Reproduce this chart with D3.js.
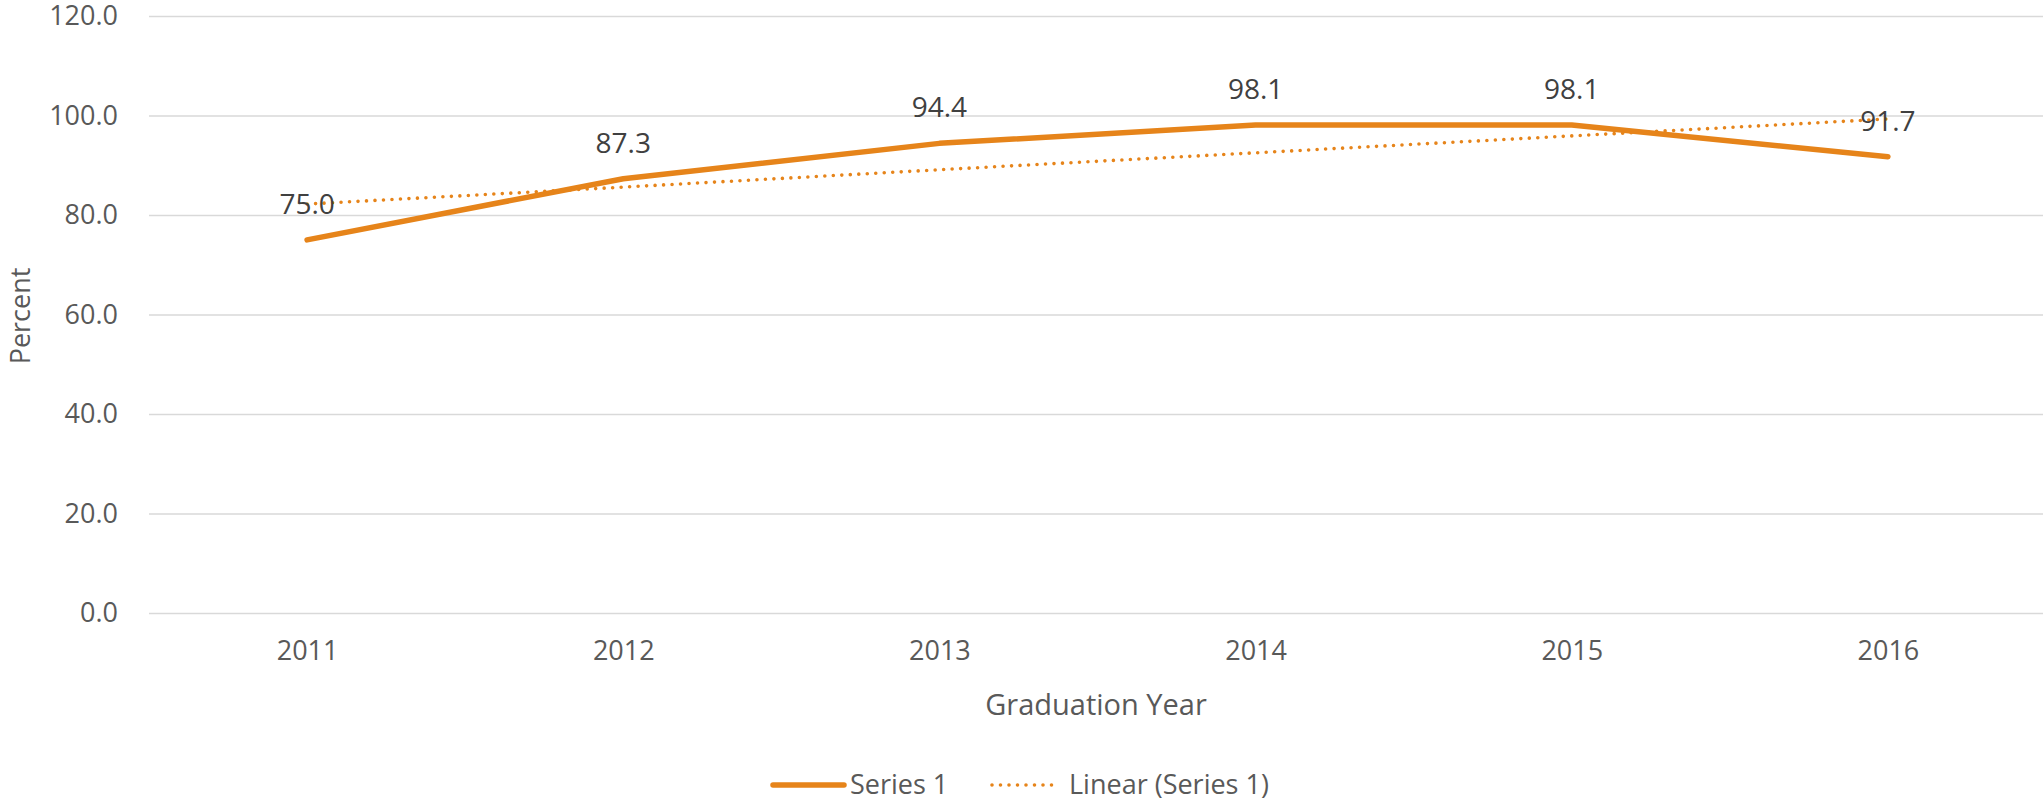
<!DOCTYPE html>
<html>
<head>
<meta charset="utf-8">
<script src="https://cdn.jsdelivr.net/npm/d3@7"></script>
<style>
  body { margin: 0; background: #fff; }
  svg text { font-family: "Open Sans", sans-serif; }
</style>
</head>
<body>
<svg id="chart"></svg>
<script>
var width = 2043,
	height = 803;
var margin = ({top: 16, right: 0, bottom: 190, left: 149});

// Values
var years = ['2011', '2012', '2013', '2014', '2015', '2016'];
var values = [75.0, 87.3, 94.4, 98.1, 98.1, 91.7];
var trendValues = [82.2, 85.6, 89.1, 92.5, 95.9, 99.3];
var yTicks = [0, 20, 40, 60, 80, 100, 120];
var seriesName = 'Series 1';
var trendName = 'Linear (Series 1)';

var orange = '#E6841A';
var gridColor = '#D9D9D9';
var labelColor = '#595959';

var svg = d3.select('#chart')
	.attr('width', width)
	.attr('height', height);

var x = d3.scalePoint()
	.domain(years)
	.range([margin.left, width + 3])
	.padding(0.5);

var y = d3.scaleLinear()
	.domain([0, 120])
	.range([613, margin.top]);

// gridlines + y tick labels
var yAxis = g => g
	.attr('transform', 'translate(' + margin.left + ',0)')
	.call(d3.axisLeft(y).tickValues(yTicks).tickFormat(d3.format('.1f')).tickSize(0).tickPadding(31))
	.call(g => g.select('.domain').remove())
	.call(g => g.selectAll('.tick line').clone()
		.attr('x2', width - margin.left)
		.attr('stroke', gridColor)
		.attr('stroke-width', 1.4))
	.call(g => g.selectAll('.tick text')
		.attr('font-size', 27)
		.attr('font-family', '"Open Sans", sans-serif')
		.attr('fill', labelColor));

svg.append('g').call(yAxis);

// x tick labels
var xAxis = g => g
	.attr('transform', 'translate(0,613)')
	.call(d3.axisBottom(x).tickSize(0).tickPadding(28))
	.call(g => g.select('.domain').remove())
	.call(g => g.selectAll('.tick text')
		.attr('font-size', 27)
		.attr('font-family', '"Open Sans", sans-serif')
		.attr('fill', labelColor));

svg.append('g').call(xAxis);

// axis titles
svg.append('text')
	.attr('x', (margin.left + width) / 2)
	.attr('y', 715)
	.attr('text-anchor', 'middle')
	.attr('font-size', 29)
	.attr('fill', labelColor)
	.text('Graduation Year');

svg.append('text')
	.attr('transform', 'translate(30,316) rotate(-90)')
	.attr('text-anchor', 'middle')
	.attr('font-size', 27)
	.attr('fill', labelColor)
	.text('Percent');

// series line
var line = d3.line()
	.x((d, i) => x(years[i]))
	.y(d => y(d));

svg.append('path')
	.attr('d', line(values))
	.attr('fill', 'none')
	.attr('stroke', orange)
	.attr('stroke-width', 5.5)
	.attr('stroke-linecap', 'round')
	.attr('stroke-linejoin', 'round');

// linear trendline
svg.append('path')
	.attr('d', line(trendValues))
	.attr('fill', 'none')
	.attr('stroke', orange)
	.attr('stroke-width', 3.6)
	.attr('stroke-linecap', 'round')
	.attr('stroke-dasharray', '0 8.5');

// data labels
svg.append('g')
	.selectAll('text')
	.data(values)
	.join('text')
		.attr('x', (d, i) => x(years[i]))
		.attr('y', d => y(d) - 26)
		.attr('text-anchor', 'middle')
		.attr('font-size', 28)
		.attr('fill', '#404040')
		.text(d => d3.format('.1f')(d));

// legend
var legend = svg.append('g');
legend.append('line')
	.attr('x1', 773).attr('x2', 844)
	.attr('y1', 785).attr('y2', 785)
	.attr('stroke', orange)
	.attr('stroke-width', 5.5)
	.attr('stroke-linecap', 'round');
legend.append('text')
	.attr('x', 850)
	.attr('y', 794)
	.attr('font-size', 27)
	.attr('fill', labelColor)
	.text(seriesName);
legend.append('line')
	.attr('x1', 992).attr('x2', 1056)
	.attr('y1', 785).attr('y2', 785)
	.attr('stroke', orange)
	.attr('stroke-width', 3.6)
	.attr('stroke-linecap', 'round')
	.attr('stroke-dasharray', '0 8.5');
legend.append('text')
	.attr('x', 1069)
	.attr('y', 794)
	.attr('font-size', 27)
	.attr('fill', labelColor)
	.text(trendName);
</script>
</body>
</html>
